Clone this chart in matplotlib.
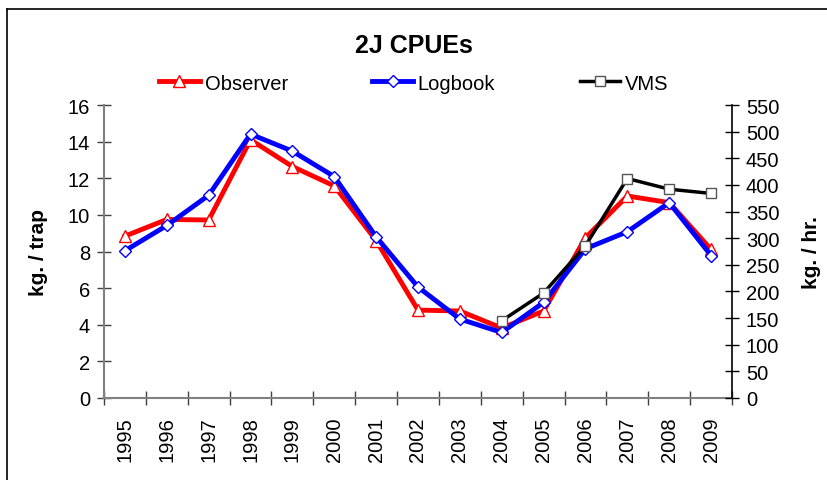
import matplotlib
matplotlib.use("Agg")
import matplotlib.pyplot as plt
from matplotlib.lines import Line2D
import numpy as np

plt.rcParams['font.family'] = ['Liberation Sans', 'DejaVu Sans']

years = ["1995", "1996", "1997", "1998", "1999", "2000", "2001", "2002",
         "2003", "2004", "2005", "2006", "2007", "2008", "2009"]
observer = [8.84, 9.75, 9.72, 14.1, 12.64, 11.58, 8.6, 4.8, 4.75, 3.82,
            4.75, 8.75, 11.03, 10.67, 8.11]
logbook = [8.04, 9.42, 11.07, 14.41, 13.48, 12.09, 8.8, 6.06, 4.31, 3.58,
           5.22, 8.15, 9.08, 10.67, 7.78]
vms_years = ["2004", "2005", "2006", "2007", "2008", "2009"]
vms = [145, 197, 286, 412, 392, 384]

left_ticks = [0, 2, 4, 6, 8, 10, 12, 14, 16]
right_ticks = [0, 50, 100, 150, 200, 250, 300, 350, 400, 450, 500, 550]

fig = plt.figure(figsize=(8.28, 4.81), dpi=100)
ax = fig.add_axes([104/828, 1-399/481, (732-104)/828, (399-106)/481])
ax2 = ax.twinx()

xpos = np.arange(len(years)) + 0.5
vpos = np.array([years.index(y) for y in vms_years]) + 0.5

l1, = ax.plot(xpos, observer, color='#ff0000', lw=3.5, marker='^', ms=8,
              mfc='white', mec='#ff0000', mew=1.0, label='Observer', zorder=3)
l2, = ax.plot(xpos, logbook, color='#0000ff', lw=3.5, marker='D', ms=6.5,
              mfc='white', mec='#0000ff', mew=1.0, label='Logbook', zorder=4)
l3, = ax2.plot(vpos, vms, color='black', lw=2.5, marker='s', ms=7.5,
               mfc='white', mec='#555555', mew=1.0, label='VMS', zorder=5)

ax.set_xlim(0, len(years))
ax.set_ylim(0, 16)
ax2.set_ylim(0, 550)
ax.set_yticks(left_ticks)
ax2.set_yticks(right_ticks)

ax.set_xticks(np.arange(len(years) + 1))
ax.set_xticklabels([])
ax.set_xticks(xpos, minor=True)
ax.set_xticklabels(years, minor=True, rotation=90, fontsize=14.5)
ax.tick_params(axis='x', which='minor', length=0, pad=13)
ax.tick_params(axis='x', which='major', direction='inout', length=10,
               color='#404040', width=1)
ax.tick_params(axis='y', direction='inout', length=10, color='#404040',
               width=1, labelsize=14.5, pad=5)
ax2.tick_params(axis='y', direction='inout', length=10, color='black',
                width=1, labelsize=14.5, pad=5)

for s in ['top', 'right']:
    ax.spines[s].set_visible(False)
ax2.spines['top'].set_visible(False)
ax2.spines['left'].set_visible(False)
ax2.spines['bottom'].set_visible(False)
ax.spines['left'].set_color('#808080')
ax.spines['bottom'].set_color('#808080')
ax.spines['left'].set_linewidth(1.5)
ax.spines['bottom'].set_linewidth(1.5)
ax2.spines['right'].set_color('black')
ax2.spines['right'].set_linewidth(1.2)

ax.set_ylabel('kg. / trap', fontsize=15, fontweight='bold', labelpad=14)
ax2.set_ylabel('kg. / hr.', fontsize=15, fontweight='bold', labelpad=16)

fig.text(0.5, 1-46/481, '2J CPUEs', ha='center', va='center',
         fontsize=18, fontweight='bold')

fig.legend(handles=[l1, l2, l3], loc='center', bbox_to_anchor=(0.5, 1-84/481),
           ncol=3, frameon=False, fontsize=14.5, handlelength=2.0,
           handletextpad=0.25, columnspacing=4.2, borderpad=0)

fig.add_artist(Line2D([7/828, 7/828], [0, 1-10/481], color='black', lw=1.2,
                      transform=fig.transFigure))
fig.add_artist(Line2D([7/828, 1], [1-10/481, 1-10/481], color='black', lw=1.2,
                      transform=fig.transFigure))

fig.savefig('out.png', dpi=100)
